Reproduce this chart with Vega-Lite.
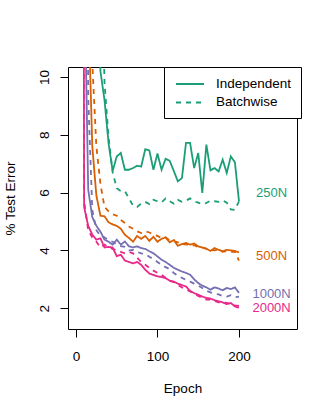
{
  "$schema": "https://vega.github.io/schema/vega-lite/v6.json",
  "width": 229,
  "height": 262,
  "autosize": {"type": "none"},
  "padding": {"left": 68, "top": 67, "right": 35, "bottom": 86},
  "background": "white",
  "config": {"font": "Liberation Sans", "view": {"stroke": "black", "strokeWidth": 1}},
  "layer": [
    {
      "data": {"values": [
        {"size":"250N","epoch":25,"Independent":20,"Batchwise":30},
        {"size":"250N","epoch":30,"Independent":10.2,"Batchwise":16},
        {"size":"250N","epoch":35,"Independent":9.2,"Batchwise":9.8},
        {"size":"250N","epoch":40,"Independent":7.7,"Batchwise":7.9},
        {"size":"250N","epoch":45,"Independent":6.75,"Batchwise":6.7},
        {"size":"250N","epoch":50,"Independent":7.25,"Batchwise":6.15},
        {"size":"250N","epoch":55,"Independent":7.37,"Batchwise":6.05},
        {"size":"250N","epoch":60,"Independent":6.79,"Batchwise":6.05},
        {"size":"250N","epoch":65,"Independent":6.79,"Batchwise":5.8},
        {"size":"250N","epoch":70,"Independent":6.85,"Batchwise":5.55},
        {"size":"250N","epoch":75,"Independent":6.93,"Batchwise":5.5},
        {"size":"250N","epoch":80,"Independent":6.9,"Batchwise":5.62},
        {"size":"250N","epoch":85,"Independent":7.5,"Batchwise":5.68},
        {"size":"250N","epoch":90,"Independent":7.46,"Batchwise":5.6},
        {"size":"250N","epoch":95,"Independent":6.79,"Batchwise":5.75},
        {"size":"250N","epoch":100,"Independent":7.35,"Batchwise":5.7},
        {"size":"250N","epoch":105,"Independent":6.79,"Batchwise":5.66},
        {"size":"250N","epoch":110,"Independent":7.17,"Batchwise":5.8},
        {"size":"250N","epoch":115,"Independent":7.1,"Batchwise":5.7},
        {"size":"250N","epoch":120,"Independent":6.75,"Batchwise":5.62},
        {"size":"250N","epoch":125,"Independent":6.39,"Batchwise":5.75},
        {"size":"250N","epoch":130,"Independent":6.5,"Batchwise":5.68},
        {"size":"250N","epoch":135,"Independent":7.72,"Batchwise":5.72},
        {"size":"250N","epoch":140,"Independent":7.72,"Batchwise":5.8},
        {"size":"250N","epoch":145,"Independent":6.85,"Batchwise":5.7},
        {"size":"250N","epoch":150,"Independent":7.37,"Batchwise":5.65},
        {"size":"250N","epoch":155,"Independent":5.99,"Batchwise":5.6},
        {"size":"250N","epoch":160,"Independent":7.66,"Batchwise":5.64},
        {"size":"250N","epoch":165,"Independent":6.77,"Batchwise":5.72},
        {"size":"250N","epoch":170,"Independent":6.85,"Batchwise":5.7},
        {"size":"250N","epoch":175,"Independent":6.73,"Batchwise":5.68},
        {"size":"250N","epoch":180,"Independent":7.14,"Batchwise":5.73},
        {"size":"250N","epoch":185,"Independent":6.68,"Batchwise":5.65},
        {"size":"250N","epoch":190,"Independent":7.25,"Batchwise":5.42},
        {"size":"250N","epoch":195,"Independent":7.05,"Batchwise":5.4},
        {"size":"250N","epoch":200,"Independent":5.7,"Batchwise":5.7},

        {"size":"500N","epoch":15,"Independent":12.5,"Batchwise":30},
        {"size":"500N","epoch":20,"Independent":7.6,"Batchwise":10.5},
        {"size":"500N","epoch":25,"Independent":5.9,"Batchwise":7.6},
        {"size":"500N","epoch":30,"Independent":5.2,"Batchwise":6.3},
        {"size":"500N","epoch":35,"Independent":5.18,"Batchwise":5.5},
        {"size":"500N","epoch":40,"Independent":4.97,"Batchwise":5.35},
        {"size":"500N","epoch":45,"Independent":4.9,"Batchwise":5.25},
        {"size":"500N","epoch":50,"Independent":4.85,"Batchwise":5.2},
        {"size":"500N","epoch":55,"Independent":4.75,"Batchwise":5.05},
        {"size":"500N","epoch":60,"Independent":4.54,"Batchwise":4.95},
        {"size":"500N","epoch":65,"Independent":4.43,"Batchwise":4.83},
        {"size":"500N","epoch":70,"Independent":4.3,"Batchwise":4.75},
        {"size":"500N","epoch":75,"Independent":4.5,"Batchwise":4.66},
        {"size":"500N","epoch":80,"Independent":4.4,"Batchwise":4.6},
        {"size":"500N","epoch":85,"Independent":4.5,"Batchwise":4.66},
        {"size":"500N","epoch":90,"Independent":4.33,"Batchwise":4.62},
        {"size":"500N","epoch":95,"Independent":4.47,"Batchwise":4.55},
        {"size":"500N","epoch":100,"Independent":4.3,"Batchwise":4.5},
        {"size":"500N","epoch":105,"Independent":4.4,"Batchwise":4.42},
        {"size":"500N","epoch":110,"Independent":4.45,"Batchwise":4.45},
        {"size":"500N","epoch":115,"Independent":4.28,"Batchwise":4.35},
        {"size":"500N","epoch":120,"Independent":4.36,"Batchwise":4.32},
        {"size":"500N","epoch":125,"Independent":4.16,"Batchwise":4.28},
        {"size":"500N","epoch":130,"Independent":4.22,"Batchwise":4.2},
        {"size":"500N","epoch":135,"Independent":4.26,"Batchwise":4.22},
        {"size":"500N","epoch":140,"Independent":4.2,"Batchwise":4.15},
        {"size":"500N","epoch":145,"Independent":4.24,"Batchwise":4.18},
        {"size":"500N","epoch":150,"Independent":4.14,"Batchwise":4.12},
        {"size":"500N","epoch":155,"Independent":4.1,"Batchwise":4.1},
        {"size":"500N","epoch":160,"Independent":4.06,"Batchwise":4.05},
        {"size":"500N","epoch":165,"Independent":3.98,"Batchwise":4.03},
        {"size":"500N","epoch":170,"Independent":4.08,"Batchwise":4.0},
        {"size":"500N","epoch":175,"Independent":4.02,"Batchwise":4.02},
        {"size":"500N","epoch":180,"Independent":3.97,"Batchwise":3.95},
        {"size":"500N","epoch":185,"Independent":4.02,"Batchwise":3.98},
        {"size":"500N","epoch":190,"Independent":4.0,"Batchwise":3.95},
        {"size":"500N","epoch":195,"Independent":3.98,"Batchwise":3.95},
        {"size":"500N","epoch":200,"Independent":3.93,"Batchwise":3.65},

        {"size":"1000N","epoch":10,"Independent":14,"Batchwise":40},
        {"size":"1000N","epoch":15,"Independent":6.1,"Batchwise":9.3},
        {"size":"1000N","epoch":20,"Independent":5.15,"Batchwise":5.4},
        {"size":"1000N","epoch":25,"Independent":4.85,"Batchwise":4.7},
        {"size":"1000N","epoch":30,"Independent":4.65,"Batchwise":4.5},
        {"size":"1000N","epoch":35,"Independent":4.37,"Batchwise":4.45},
        {"size":"1000N","epoch":40,"Independent":4.3,"Batchwise":4.35},
        {"size":"1000N","epoch":45,"Independent":4.2,"Batchwise":4.3},
        {"size":"1000N","epoch":50,"Independent":4.37,"Batchwise":4.2},
        {"size":"1000N","epoch":55,"Independent":4.2,"Batchwise":4.15},
        {"size":"1000N","epoch":60,"Independent":4.31,"Batchwise":4.12},
        {"size":"1000N","epoch":65,"Independent":4.14,"Batchwise":4.0},
        {"size":"1000N","epoch":70,"Independent":4.1,"Batchwise":4.02},
        {"size":"1000N","epoch":75,"Independent":4.14,"Batchwise":3.95},
        {"size":"1000N","epoch":80,"Independent":4.08,"Batchwise":3.9},
        {"size":"1000N","epoch":85,"Independent":4.05,"Batchwise":3.88},
        {"size":"1000N","epoch":90,"Independent":3.97,"Batchwise":3.78},
        {"size":"1000N","epoch":95,"Independent":3.9,"Batchwise":3.7},
        {"size":"1000N","epoch":100,"Independent":3.79,"Batchwise":3.6},
        {"size":"1000N","epoch":105,"Independent":3.68,"Batchwise":3.5},
        {"size":"1000N","epoch":110,"Independent":3.6,"Batchwise":3.42},
        {"size":"1000N","epoch":115,"Independent":3.5,"Batchwise":3.35},
        {"size":"1000N","epoch":120,"Independent":3.4,"Batchwise":3.22},
        {"size":"1000N","epoch":125,"Independent":3.33,"Batchwise":3.12},
        {"size":"1000N","epoch":130,"Independent":3.27,"Batchwise":3.05},
        {"size":"1000N","epoch":135,"Independent":3.22,"Batchwise":2.98},
        {"size":"1000N","epoch":140,"Independent":3.16,"Batchwise":2.92},
        {"size":"1000N","epoch":145,"Independent":3.0,"Batchwise":2.85},
        {"size":"1000N","epoch":150,"Independent":2.87,"Batchwise":2.78},
        {"size":"1000N","epoch":155,"Independent":2.78,"Batchwise":2.7},
        {"size":"1000N","epoch":160,"Independent":2.72,"Batchwise":2.6},
        {"size":"1000N","epoch":165,"Independent":2.64,"Batchwise":2.55},
        {"size":"1000N","epoch":170,"Independent":2.72,"Batchwise":2.5},
        {"size":"1000N","epoch":175,"Independent":2.68,"Batchwise":2.48},
        {"size":"1000N","epoch":180,"Independent":2.62,"Batchwise":2.42},
        {"size":"1000N","epoch":185,"Independent":2.7,"Batchwise":2.4},
        {"size":"1000N","epoch":190,"Independent":2.66,"Batchwise":2.45},
        {"size":"1000N","epoch":195,"Independent":2.72,"Batchwise":2.38},
        {"size":"1000N","epoch":200,"Independent":2.53,"Batchwise":2.4},

        {"size":"2000N","epoch":5,"Independent":80,"Batchwise":80},
        {"size":"2000N","epoch":10,"Independent":5.5,"Batchwise":5.7},
        {"size":"2000N","epoch":15,"Independent":4.85,"Batchwise":4.7},
        {"size":"2000N","epoch":20,"Independent":4.55,"Batchwise":4.45},
        {"size":"2000N","epoch":25,"Independent":4.37,"Batchwise":4.3},
        {"size":"2000N","epoch":30,"Independent":4.42,"Batchwise":4.1},
        {"size":"2000N","epoch":35,"Independent":4.1,"Batchwise":4.2},
        {"size":"2000N","epoch":40,"Independent":4.12,"Batchwise":4.1},
        {"size":"2000N","epoch":45,"Independent":4.1,"Batchwise":4.05},
        {"size":"2000N","epoch":50,"Independent":3.8,"Batchwise":4.0},
        {"size":"2000N","epoch":55,"Independent":3.85,"Batchwise":3.95},
        {"size":"2000N","epoch":60,"Independent":3.65,"Batchwise":3.9},
        {"size":"2000N","epoch":65,"Independent":3.6,"Batchwise":3.95},
        {"size":"2000N","epoch":70,"Independent":3.55,"Batchwise":3.9},
        {"size":"2000N","epoch":75,"Independent":3.6,"Batchwise":3.75},
        {"size":"2000N","epoch":80,"Independent":3.5,"Batchwise":3.6},
        {"size":"2000N","epoch":85,"Independent":3.33,"Batchwise":3.5},
        {"size":"2000N","epoch":90,"Independent":3.2,"Batchwise":3.4},
        {"size":"2000N","epoch":95,"Independent":3.15,"Batchwise":3.3},
        {"size":"2000N","epoch":100,"Independent":3.1,"Batchwise":3.22},
        {"size":"2000N","epoch":105,"Independent":3.08,"Batchwise":3.15},
        {"size":"2000N","epoch":110,"Independent":3.04,"Batchwise":3.05},
        {"size":"2000N","epoch":115,"Independent":2.95,"Batchwise":2.95},
        {"size":"2000N","epoch":120,"Independent":2.92,"Batchwise":2.9},
        {"size":"2000N","epoch":125,"Independent":2.85,"Batchwise":2.8},
        {"size":"2000N","epoch":130,"Independent":2.8,"Batchwise":2.72},
        {"size":"2000N","epoch":135,"Independent":2.75,"Batchwise":2.65},
        {"size":"2000N","epoch":140,"Independent":2.6,"Batchwise":2.58},
        {"size":"2000N","epoch":145,"Independent":2.52,"Batchwise":2.5},
        {"size":"2000N","epoch":150,"Independent":2.47,"Batchwise":2.42},
        {"size":"2000N","epoch":155,"Independent":2.4,"Batchwise":2.36},
        {"size":"2000N","epoch":160,"Independent":2.36,"Batchwise":2.3},
        {"size":"2000N","epoch":165,"Independent":2.33,"Batchwise":2.3},
        {"size":"2000N","epoch":170,"Independent":2.28,"Batchwise":2.25},
        {"size":"2000N","epoch":175,"Independent":2.24,"Batchwise":2.2},
        {"size":"2000N","epoch":180,"Independent":2.2,"Batchwise":2.22},
        {"size":"2000N","epoch":185,"Independent":2.14,"Batchwise":2.18},
        {"size":"2000N","epoch":190,"Independent":2.18,"Batchwise":2.15},
        {"size":"2000N","epoch":195,"Independent":2.06,"Batchwise":2.1},
        {"size":"2000N","epoch":200,"Independent":2.02,"Batchwise":2.08}
      ]},
      "transform": [{"fold": ["Independent", "Batchwise"], "as": ["type", "err"]}],
      "mark": {"type": "line", "clip": true, "strokeWidth": 1.8},
      "encoding": {
        "x": {
          "field": "epoch", "type": "quantitative",
          "scale": {"domain": [-9.8, 271.2], "nice": false, "zero": false},
          "axis": {
            "values": [0, 100, 200], "title": "Epoch", "grid": false, "domain": false,
            "tickSize": 8, "tickColor": "black", "labelColor": "black", "labelFontSize": 13.5,
            "labelPadding": 12, "labelFlush": false,
            "titleFontSize": 13.5, "titleFontWeight": "normal", "titleColor": "black",
            "titleY": 52.7, "titleBaseline": "top"
          }
        },
        "y": {
          "field": "err", "type": "quantitative",
          "scale": {"domain": [1.28, 10.346], "nice": false, "zero": false},
          "axis": {
            "values": [2, 4, 6, 8, 10], "title": "% Test Error", "grid": false, "domain": false,
            "tickSize": 8, "tickColor": "black", "labelColor": "black", "labelFontSize": 13.5,
            "labelPadding": 12, "labelAngle": -90, "labelAlign": "center", "labelBaseline": "alphabetic",
            "labelFlush": false,
            "titleFontSize": 13.5, "titleFontWeight": "normal", "titleColor": "black",
            "titleAngle": -90, "titleX": -53.5, "titleY": 131, "titleBaseline": "alphabetic", "titleAlign": "center"
          }
        },
        "color": {
          "field": "size", "type": "nominal",
          "scale": {"domain": ["250N", "500N", "1000N", "2000N"], "range": ["#1B9E77", "#D95F02", "#7570B3", "#E7298A"]},
          "legend": null
        },
        "strokeDash": {
          "field": "type", "type": "nominal",
          "scale": {"domain": ["Independent", "Batchwise"], "range": [[1, 0], [5, 5]]},
          "legend": {
            "title": null, "orient": "none", "legendX": 96, "legendY": 0, "direction": "vertical",
            "padding": 9, "strokeColor": "black", "fillColor": "white", "cornerRadius": 0,
            "symbolType": "M-2,0H2", "symbolSize": 196, "symbolStrokeWidth": 2, "symbolStrokeColor": "#1B9E77",
            "symbolOffset": 9, "labelOffset": 18, "rowPadding": 3.4,
            "labelFontSize": 13.5, "labelColor": "black",
            "encode": {"symbols": {"update": {"stroke": {"value": "#1B9E77"}, "strokeWidth": {"value": 2}}}}
          }
        }
      }
    },
    {
      "data": {"values": [
        {"size": "250N", "epoch": 240, "err": 5.98},
        {"size": "500N", "epoch": 240, "err": 3.79},
        {"size": "1000N", "epoch": 240, "err": 2.48},
        {"size": "2000N", "epoch": 240, "err": 2.0}
      ]},
      "mark": {"type": "text", "fontSize": 13, "align": "center", "baseline": "middle"},
      "encoding": {
        "x": {"field": "epoch", "type": "quantitative"},
        "y": {"field": "err", "type": "quantitative"},
        "text": {"field": "size"},
        "color": {"field": "size", "type": "nominal", "legend": null}
      }
    }
  ]
}
